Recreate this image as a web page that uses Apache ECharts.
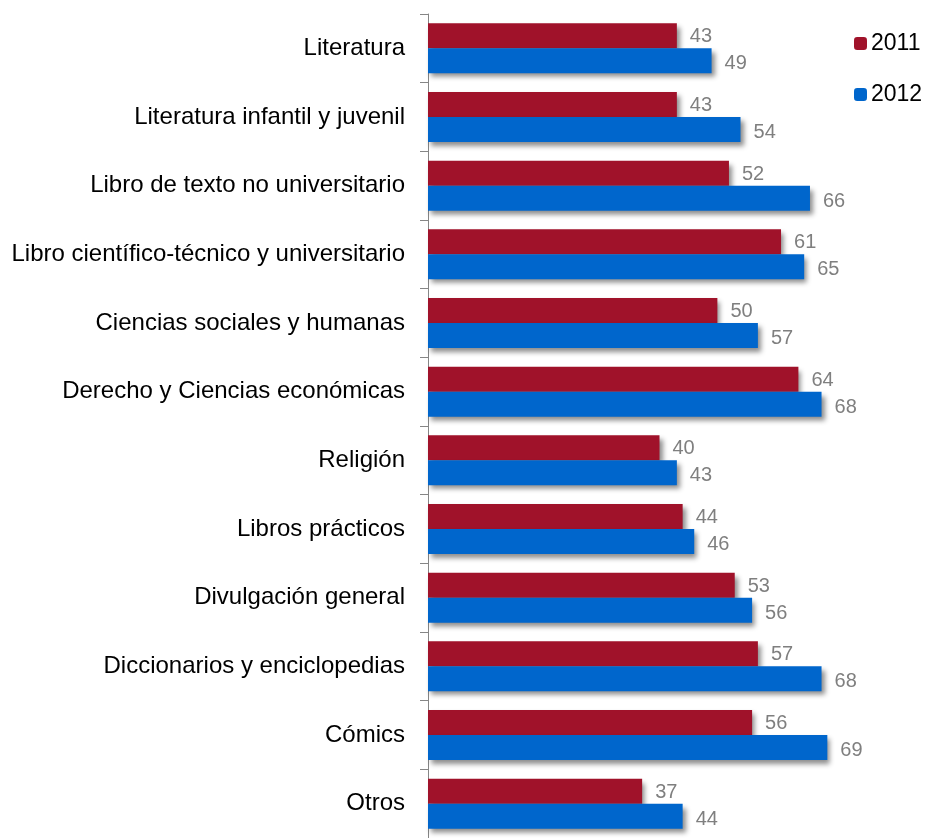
<!DOCTYPE html>
<html><head><meta charset="utf-8">
<script src="https://cdn.jsdelivr.net/npm/echarts@6/dist/echarts.min.js"></script>
<style>html,body{margin:0;padding:0;background:#fff}#c{width:928px;height:838px}</style>
</head><body><div id="c"></div>
<script>
const categories = ["Literatura","Literatura infantil y juvenil","Libro de texto no universitario","Libro científico-técnico y universitario","Ciencias sociales y humanas","Derecho y Ciencias económicas","Religión","Libros prácticos","Divulgación general","Diccionarios y enciclopedias","Cómics","Otros"];
const values2011 = [43,43,52,61,50,64,40,44,53,57,56,37];
const values2012 = [49,54,66,65,57,68,43,46,56,68,69,44];
const seriesNames = ["2011","2012"];

const FONT = 'Liberation Sans, Arial, sans-serif';
const chart = echarts.init(document.getElementById('c'));
const shadow = {shadowColor:'rgba(0,0,0,0.45)',shadowBlur:5,shadowOffsetX:3,shadowOffsetY:4};
const lbl = {show:true,position:'right',distance:13,color:'#7f7f7f',fontSize:20,fontFamily:FONT};
chart.setOption({
  animation:false,
  grid:{left:428,top:14,right:37,bottom:-6,containLabel:false},
  legend:{orient:'vertical',left:849,top:27,itemWidth:13,itemHeight:13,itemGap:28,
    textStyle:{fontSize:23,color:'#000',fontFamily:FONT,padding:[0,0,0,-1]},
    data:seriesNames},
  xAxis:{type:'value',min:0,max:80,show:false},
  yAxis:{type:'category',data:categories,inverse:true,
    axisLine:{lineStyle:{color:'#868686',width:1}},
    axisTick:{show:true,length:8,inside:false,lineStyle:{color:'#868686'}},
    axisLabel:{color:'#000',fontSize:24,margin:23,fontFamily:FONT}},
  series:[
    {name:seriesNames[0],type:'bar',data:values2011,barWidth:25,barGap:'0%',
     itemStyle:Object.assign({color:'#A0122A'},shadow),label:Object.assign({},lbl,{offset:[0,1]})},
    {name:seriesNames[1],type:'bar',data:values2012,barWidth:25,barGap:'0%',
     itemStyle:Object.assign({color:'#0066CC'},shadow),label:Object.assign({},lbl,{offset:[0,3]})}
  ]
});
</script></body></html>
